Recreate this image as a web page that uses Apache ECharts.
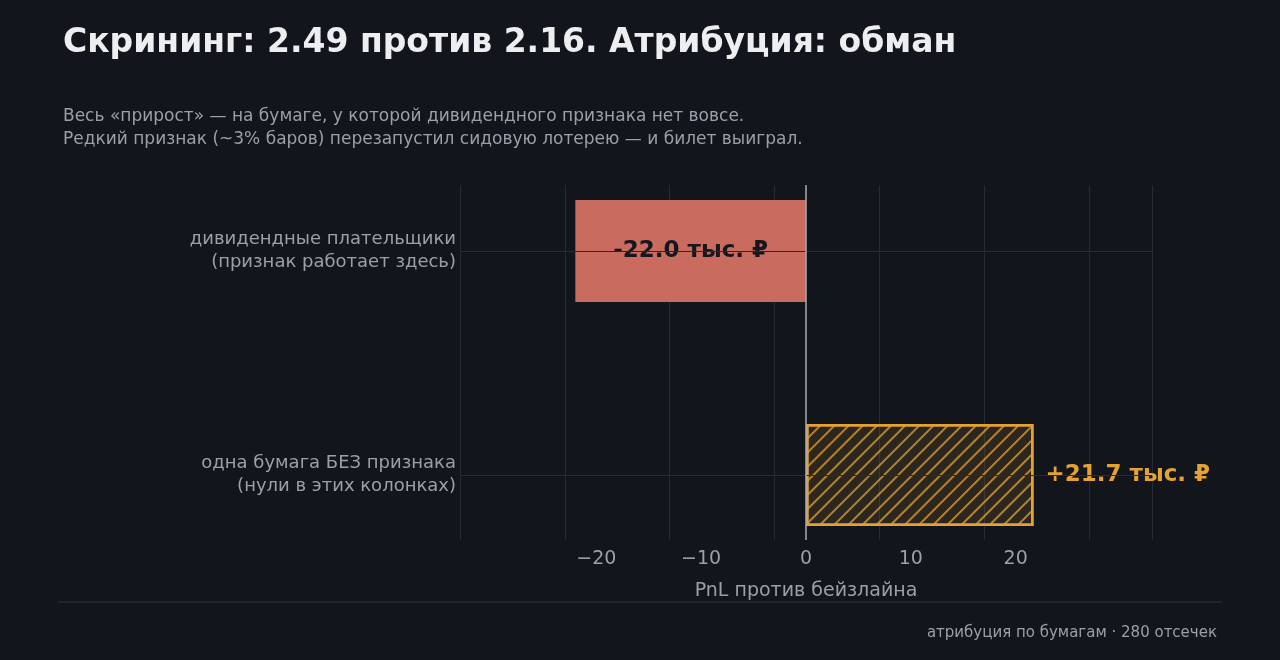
<!DOCTYPE html><html><head><meta charset="utf-8"><script src="https://cdn.jsdelivr.net/npm/echarts@6/dist/echarts.min.js"></script>
<style>html,body{margin:0;background:#12151c}#c{width:1280px;height:660px}</style></head><body><div id="c"></div><script>
const categories=['дивидендные плательщики\n(признак работает здесь)','одна бумага БЕЗ признака\n(нули в этих колонках)'];
const values=[-22.0,21.7];
const labels=['-22.0 тыс. ₽','+21.7 тыс. ₽'];
const gold='#e3a232',red='#c96b5e',gray='#9aa0a8';
const ch=echarts.init(document.getElementById('c'));
ch.setOption({backgroundColor:'#12151c',animation:false,
title:[{text:'Скрининг: 2.49 против 2.16. Атрибуция: обман',left:58,top:22,textStyle:{color:'#eceef0',fontSize:33,fontWeight:'bold',fontFamily:'DejaVu Sans'}},
{text:'Весь «прирост» — на бумаге, у которой дивидендного признака нет вовсе.\nРедкий признак (~3% баров) перезапустил сидовую лотерею — и билет выиграл.',left:58,top:100,textStyle:{color:gray,fontSize:17,lineHeight:23,fontWeight:'normal',fontFamily:'DejaVu Sans'}},
{text:'атрибуция по бумагам · 280 отсечек',right:58,top:621,textStyle:{color:gray,fontSize:15,fontWeight:'normal',fontFamily:'DejaVu Sans'}}],
graphic:[{type:'line',shape:{x1:58,y1:602,x2:1222,y2:602},style:{stroke:'#2c3038',lineWidth:1}}],
grid:[{left:460,right:128,top:139,bottom:73},{left:460,right:128,top:185,bottom:120}],
xAxis:[{gridIndex:0,type:'value',min:-33,max:33,show:false},
{gridIndex:1,type:'value',min:-33,max:33,interval:10,
 axisLabel:{color:gray,fontSize:19,fontFamily:'DejaVu Sans',formatter:v=>(v%10===0?String(v).replace('-','−'):''),margin:10,showMinLabel:false,showMaxLabel:false,customValues:[-30,-20,-10,0,10,20,30]},
 axisTick:{show:false},axisLine:{show:false},splitLine:{show:true,lineStyle:{color:'#262a32'}},
 name:'PnL против бейзлайна',nameLocation:'middle',nameGap:42,nameTextStyle:{color:gray,fontSize:19,fontFamily:'DejaVu Sans'}}],
yAxis:[{gridIndex:0,type:'category',data:categories,inverse:true,axisLine:{show:false},axisTick:{show:false},splitLine:{show:false},
 axisLabel:{color:gray,fontSize:18,lineHeight:23,align:'right',margin:4,fontFamily:'DejaVu Sans'}},
{gridIndex:1,type:'value',min:0,max:1,show:false}],
series:[{type:'bar',xAxisIndex:0,yAxisIndex:0,barWidth:102,
 data:[{value:values[0],itemStyle:{color:red},label:{show:true,position:'inside',formatter:labels[0],color:'#15171c',fontSize:23,fontWeight:'bold',fontFamily:'DejaVu Sans'}},
 {value:values[1],itemStyle:{color:'rgba(227,162,50,0.12)',borderColor:gold,borderWidth:2.5,decal:{symbol:'rect',color:'rgba(227,162,50,0.75)',dashArrayX:[1,0],dashArrayY:[1.5,8],rotation:-Math.PI/4}},label:{show:true,position:'right',distance:12,formatter:labels[1],color:gold,fontSize:23,fontWeight:'bold',fontFamily:'DejaVu Sans'}}],
 markLine:{silent:true,symbol:'none',label:{show:false},lineStyle:{color:'#262a32',type:'solid',width:1},data:[{yAxis:categories[0]},{yAxis:categories[1]}]},z:3},
{type:'scatter',xAxisIndex:1,yAxisIndex:1,data:[],markLine:{silent:true,symbol:'none',label:{show:false},lineStyle:{color:'#a8adb4',type:'solid',width:1.5},data:[{xAxis:0}]},z:5}]
});
</script></body></html>
